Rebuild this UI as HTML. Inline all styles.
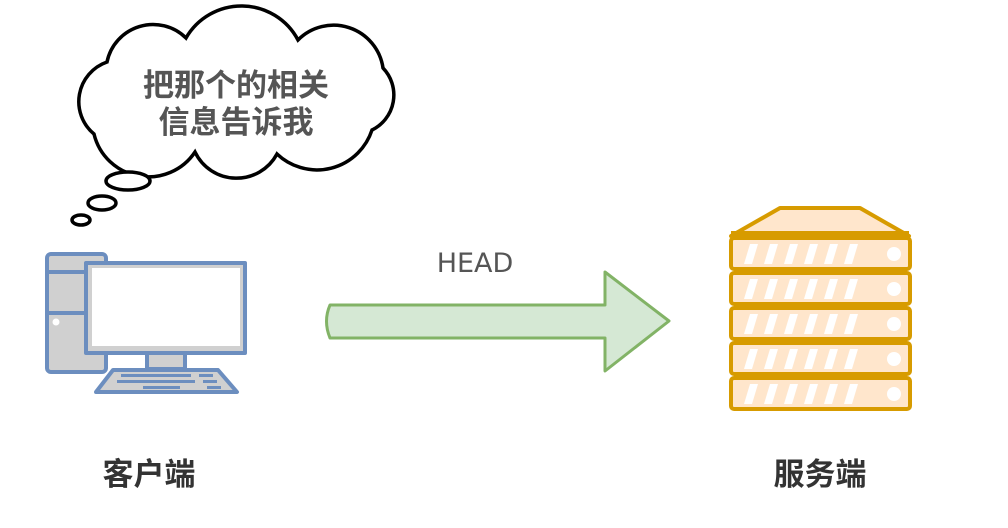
<!DOCTYPE html>
<html><head><meta charset="utf-8"><style>
html,body{margin:0;padding:0;background:#fff;width:1008px;height:528px;overflow:hidden}
svg{display:block}
</style></head><body>
<svg width="1008" height="528" viewBox="0 0 1008 528" xmlns="http://www.w3.org/2000/svg">
<!-- cloud -->
<path d="M94,134 A42,42 0 0 1 107,62 A47,47 0 0 1 186,38 A64,64 0 0 1 298,40 A50,50 0 0 1 383,68 A39,39 0 0 1 372,130 A58,58 0 0 1 277,154 A46,46 0 0 1 195,152 A56,56 0 0 1 94,134 Z" fill="#fff" stroke="#000" stroke-width="3.5"/>
<ellipse cx="128" cy="181" rx="22" ry="9" fill="#fff" stroke="#000" stroke-width="3.5"/>
<ellipse cx="102" cy="203" rx="14" ry="7" fill="#fff" stroke="#000" stroke-width="3.5"/>
<ellipse cx="81" cy="220" rx="9" ry="5" fill="#fff" stroke="#000" stroke-width="3.5"/>
<g font-family="Liberation Sans, Noto Sans CJK SC, sans-serif" font-weight="bold" fill="#555" font-size="31" text-anchor="middle">
<text x="236" y="96">把那个的相关</text>
<text x="236" y="133">信息告诉我</text>
</g>
<!-- computer -->
<g stroke="#6c8ebf" stroke-width="4" stroke-linejoin="round">
<rect x="47" y="254" width="59" height="118" rx="4" fill="#d0d0d0"/>
<line x1="47" y1="272" x2="106" y2="272"/>
<line x1="47" y1="313" x2="106" y2="313"/>
<rect x="147" y="353" width="38" height="16" fill="#d0d0d0"/>
<rect x="86" y="263" width="159" height="90" fill="#d0d0d0"/>
<rect x="92" y="268" width="148" height="78" fill="#fff" stroke="none"/>
<polygon points="113,370 218,370 237,392 96,392" fill="#d0d0d0"/>
</g>
<circle cx="56" cy="322" r="3.5" fill="#fff"/>
<g fill="#6c8ebf">
<rect x="121" y="374" width="70" height="3"/><rect x="199" y="374" width="14" height="3"/>
<rect x="117" y="380" width="78" height="3"/><rect x="203" y="380" width="14" height="3"/>
<rect x="143" y="386" width="37" height="3"/><rect x="207" y="386" width="14" height="3"/>
</g>
<!-- arrow -->
<path d="M330,305 L605,305 L605,272 L669,321 L605,371 L605,338 L330,338 Q323,321 330,305 Z" fill="#d5e8d4" stroke="#82b366" stroke-width="3" stroke-linejoin="round"/>
<text x="475" y="272" font-family="DejaVu Sans, sans-serif" font-size="27" fill="#555" text-anchor="middle">HEAD</text>
<!-- server -->
<g stroke="#d79b00" stroke-width="4" stroke-linejoin="round">
<polygon points="780,208 860,208 909,236 731,236" fill="#ffe6cc"/>
<line x1="731" y1="234" x2="909" y2="234" stroke-width="6"/>
</g>
<defs>
<g id="r">
<rect x="731" y="0" width="179" height="31" rx="3" fill="#ffe6cc" stroke="#d79b00" stroke-width="4"/>
<g fill="#fff">
<polygon points="744,26 750,6 758,6 752,26"/>
<polygon points="764,26 770,6 778,6 772,26"/>
<polygon points="784,26 790,6 798,6 792,26"/>
<polygon points="804,26 810,6 818,6 812,26"/>
<polygon points="824,26 830,6 838,6 832,26"/>
<polygon points="844,26 850,6 858,6 852,26"/>
<circle cx="894" cy="16" r="7"/>
</g>
</g>
</defs>
<use href="#r" y="238"/>
<use href="#r" y="273"/>
<use href="#r" y="308"/>
<use href="#r" y="343"/>
<use href="#r" y="378"/>
<g font-family="Liberation Sans, Noto Sans CJK SC, sans-serif" font-weight="bold" fill="#333" font-size="31" text-anchor="middle">
<text x="149" y="485">客户端</text>
<text x="820" y="485">服务端</text>
</g>
</svg>
</body></html>
